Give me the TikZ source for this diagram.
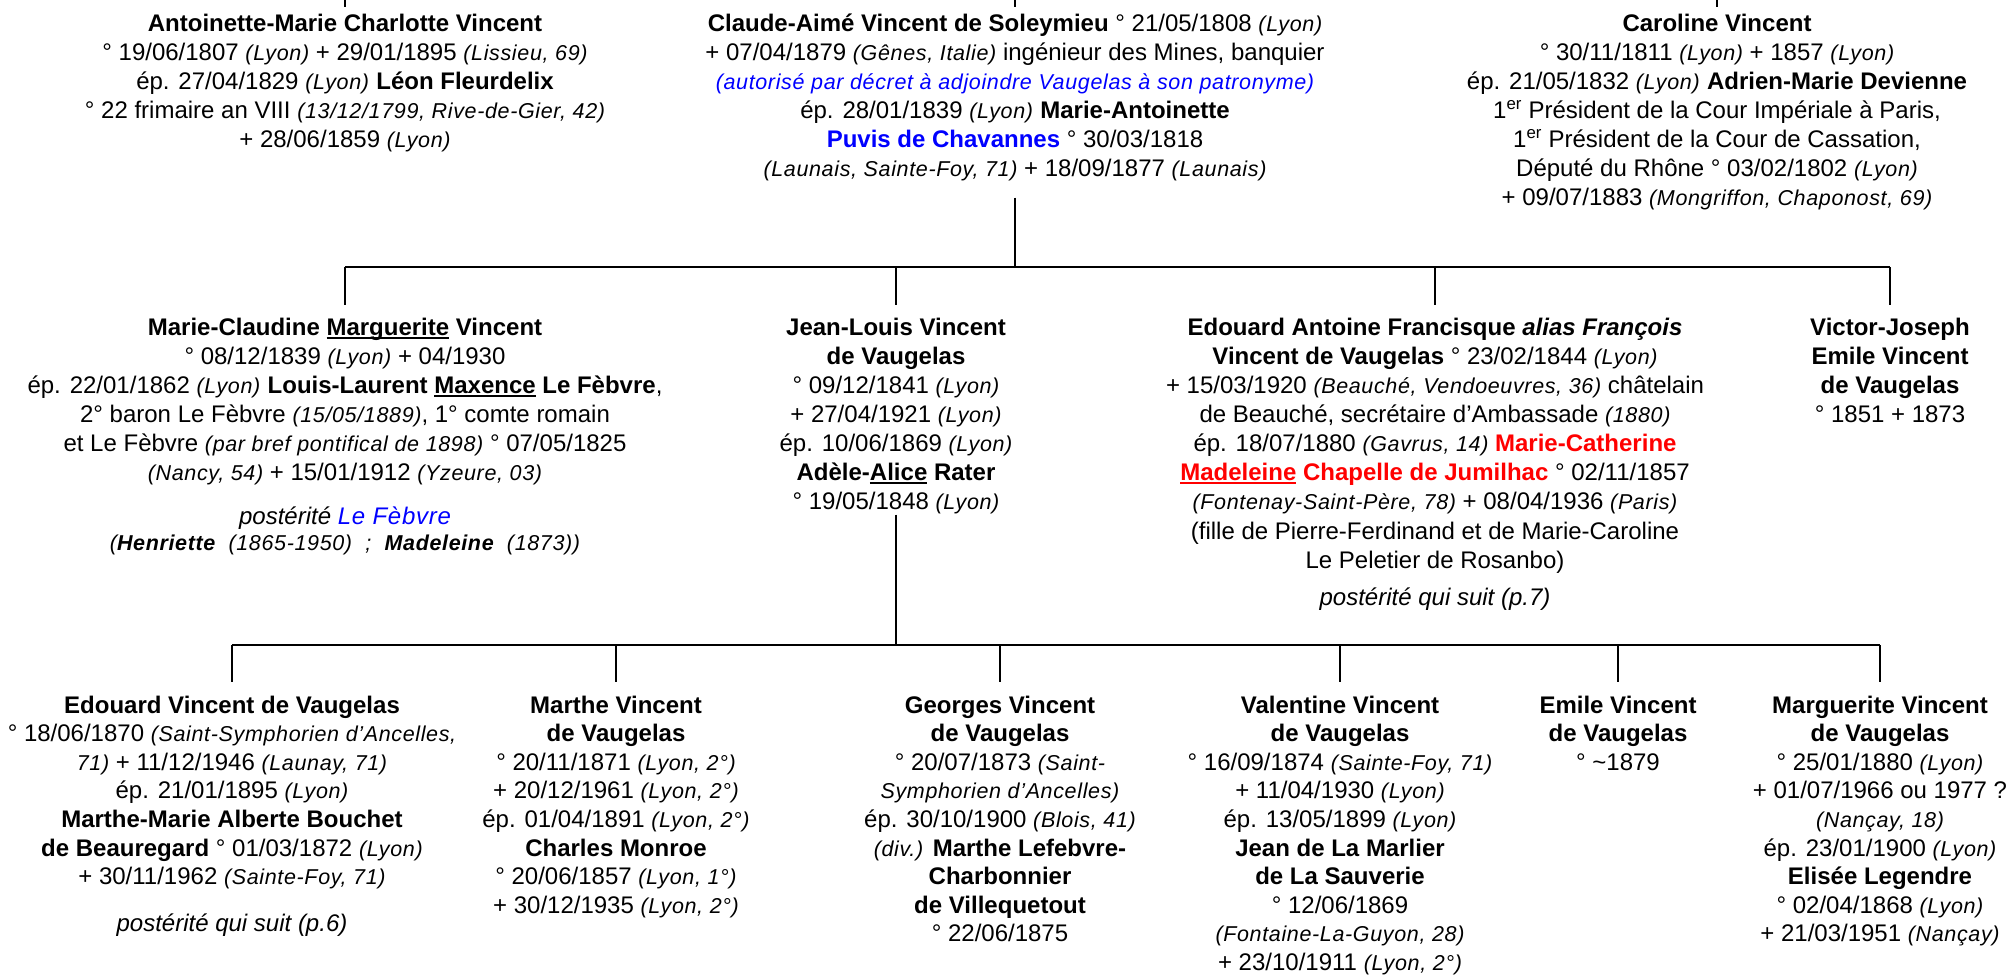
\documentclass[tikz,border=0pt]{standalone}
\usepackage{fontspec}
\setmainfont{Liberation Sans}
\newfontfamily\itsp[LetterSpace=3]{Liberation Sans}
\definecolor{gblue}{RGB}{0,0,255}
\definecolor{gred}{RGB}{255,0,0}
\newcommand{\plc}[1]{{\itsp\fontsize{21.5}{\baselineskip}\selectfont\itshape #1}}
\newsavebox\ubox
\newcommand{\undl}[1]{\sbox\ubox{#1}\rlap{\rule[-3.2pt]{\wd\ubox}{1.8pt}}\usebox\ubox}
\begin{document}
\begin{tikzpicture}[x=1pt,y=-1pt,
  person/.style={anchor=north,inner sep=0pt,outer sep=0pt,align=center,font=\fontsize{24}{29.1}\selectfont},
  lowperson/.style={person,font=\fontsize{24}{28.6}\selectfont},
  note/.style={inner sep=0pt,outer sep=0pt,align=center,font=\fontsize{24}{29.1}\selectfont},
  tree/.style={draw=black,line width=2.6pt}]
\useasboundingbox (0,0) rectangle (2015,975);
\fill[white] (0,0) rectangle (2015,975);

% ---------- top row ----------
\node[person] (A) at (345,11) {\strut\textbf{Antoinette-Marie Charlotte Vincent}\\
° 19/06/1807 \plc{(Lyon)} + 29/01/1895 \plc{(Lissieu, 69)}\\
ép. 27/04/1829 \plc{(Lyon)} \textbf{Léon Fleurdelix}\\
° 22 frimaire an VIII \plc{(13/12/1799, Rive-de-Gier, 42)}\\
+ 28/06/1859 \plc{(Lyon)}\strut};

\node[person] (B) at (1015,11) {\strut\textbf{Claude-Aimé Vincent de Soleymieu} ° 21/05/1808 \plc{(Lyon)}\\
+ 07/04/1879 \plc{(Gênes, Italie)} ingénieur des Mines, banquier\\
{\color{gblue}\plc{(autorisé par décret à adjoindre Vaugelas à son patronyme)}}\\
ép. 28/01/1839 \plc{(Lyon)} \textbf{Marie-Antoinette}\\
{\color{gblue}\textbf{Puvis de Chavannes}} ° 30/03/1818\\
\plc{(Launais, Sainte-Foy, 71)} + 18/09/1877 \plc{(Launais)}\strut};

\node[person] (C) at (1717,11) {\strut\textbf{Caroline Vincent}\\
° 30/11/1811 \plc{(Lyon)} + 1857 \plc{(Lyon)}\\
ép. 21/05/1832 \plc{(Lyon)} \textbf{Adrien-Marie Devienne}\\
1\textsuperscript{er} Président de la Cour Impériale à Paris,\\
1\textsuperscript{er} Président de la Cour de Cassation,\\
Député du Rhône ° 03/02/1802 \plc{(Lyon)}\\
+ 09/07/1883 \plc{(Mongriffon, Chaponost, 69)}\strut};

% ---------- middle row ----------
\node[person] (D) at (345,315) {\strut\textbf{Marie-Claudine \undl{Marguerite} Vincent}\\
° 08/12/1839 \plc{(Lyon)} + 04/1930\\
ép. 22/01/1862 \plc{(Lyon)} \textbf{Louis-Laurent \undl{Maxence} Le Fèbvre},\\
2° baron Le Fèbvre \plc{(15/05/1889)}, 1° comte romain\\
et Le Fèbvre \plc{(par bref pontifical de 1898)} ° 07/05/1825\\
\plc{(Nancy, 54)} + 15/01/1912 \plc{(Yzeure, 03)}\strut};
\node[note] (Dp) at (345,518) {\textit{postérité {\color{gblue}\itsp Le Fèbvre}}};
\node[note] (Dq) at (345,545) {\plc{(\textbf{Henriette} \ (1865-1950) \ ; \ \textbf{Madeleine} \ (1873))}};

\node[person] (E) at (896,315) {\strut\textbf{Jean-Louis Vincent}\\
\textbf{de Vaugelas}\\
° 09/12/1841 \plc{(Lyon)}\\
+ 27/04/1921 \plc{(Lyon)}\\
ép. 10/06/1869 \plc{(Lyon)}\\
\textbf{Adèle-\undl{Alice} Rater}\\
° 19/05/1848 \plc{(Lyon)}\strut};

\node[person] (F) at (1435,315) {\strut\textbf{Edouard Antoine Francisque \textit{alias François}}\\
\textbf{Vincent de Vaugelas} ° 23/02/1844 \plc{(Lyon)}\\
+ 15/03/1920 \plc{(Beauché, Vendoeuvres, 36)} châtelain\\
de Beauché, secrétaire d’Ambassade \plc{(1880)}\\
ép. 18/07/1880 \plc{(Gavrus, 14)} {\color{gred}\textbf{Marie-Catherine}}\\
{\color{gred}\textbf{\undl{Madeleine} Chapelle de Jumilhac}} ° 02/11/1857\\
\plc{(Fontenay-Saint-Père, 78)} + 08/04/1936 \plc{(Paris)}\\
(fille de Pierre-Ferdinand et de Marie-Caroline\\
Le Peletier de Rosanbo)\strut};
\node[note] (Fp) at (1435,599) {\textit{postérité qui suit (p.7)}};

\node[person] (G) at (1890,315) {\strut\textbf{Victor-Joseph}\\
\textbf{Emile Vincent}\\
\textbf{de Vaugelas}\\
° 1851 + 1873\strut};

% ---------- bottom row ----------
\node[lowperson] (H) at (232,693) {\strut\textbf{Edouard Vincent de Vaugelas}\\
° 18/06/1870 \plc{(Saint-Symphorien d’Ancelles,}\\
\plc{71)} + 11/12/1946 \plc{(Launay, 71)}\\
ép. 21/01/1895 \plc{(Lyon)}\\
\textbf{Marthe-Marie Alberte Bouchet}\\
\textbf{de Beauregard} ° 01/03/1872 \plc{(Lyon)}\\
+ 30/11/1962 \plc{(Sainte-Foy, 71)}\strut};
\node[note] (Hp) at (232,925) {\textit{postérité qui suit (p.6)}};

\node[lowperson] (I) at (616,693) {\strut\textbf{Marthe Vincent}\\
\textbf{de Vaugelas}\\
° 20/11/1871 \plc{(Lyon, 2°)}\\
+ 20/12/1961 \plc{(Lyon, 2°)}\\
ép. 01/04/1891 \plc{(Lyon, 2°)}\\
\textbf{Charles Monroe}\\
° 20/06/1857 \plc{(Lyon, 1°)}\\
+ 30/12/1935 \plc{(Lyon, 2°)}\strut};

\node[lowperson] (J) at (1000,693) {\strut\textbf{Georges Vincent}\\
\textbf{de Vaugelas}\\
° 20/07/1873 \plc{(Saint-}\\
\plc{Symphorien d’Ancelles)}\\
ép. 30/10/1900 \plc{(Blois, 41)}\\
\plc{(div.)} \textbf{Marthe Lefebvre-}\\
\textbf{Charbonnier}\\
\textbf{de Villequetout}\\
° 22/06/1875\strut};

\node[lowperson] (K) at (1340,693) {\strut\textbf{Valentine Vincent}\\
\textbf{de Vaugelas}\\
° 16/09/1874 \plc{(Sainte-Foy, 71)}\\
+ 11/04/1930 \plc{(Lyon)}\\
ép. 13/05/1899 \plc{(Lyon)}\\
\textbf{Jean de La Marlier}\\
\textbf{de La Sauverie}\\
° 12/06/1869\\
\plc{(Fontaine-La-Guyon, 28)}\\
+ 23/10/1911 \plc{(Lyon, 2°)}\strut};

\node[lowperson] (L) at (1618,693) {\strut\textbf{Emile Vincent}\\
\textbf{de Vaugelas}\\
° \textasciitilde1879\strut};

\node[lowperson] (M) at (1880,693) {\strut\textbf{Marguerite Vincent}\\
\textbf{de Vaugelas}\\
° 25/01/1880 \plc{(Lyon)}\\
+ 01/07/1966 ou 1977 ?\\
\plc{(Nançay, 18)}\\
ép. 23/01/1900 \plc{(Lyon)}\\
\textbf{Elisée Legendre}\\
° 02/04/1868 \plc{(Lyon)}\\
+ 21/03/1951 \plc{(Nançay)}\strut};

% ---------- connectors ----------
\coordinate (top) at (0,0);
\coordinate (bus1) at (0,267);
\coordinate (bus2) at (0,645);

\foreach \n in {A,B,C}
  \draw[tree,shorten >=4pt] (\n.north |- top) -- (\n.north);

\draw[tree,shorten <=12pt] (B.south) -- (B.south |- bus1);
\draw[tree] (D.north |- bus1) -- (G.north |- bus1);
\foreach \n in {D,E,F,G}
  \draw[tree,shorten >=10pt] (\n.north |- bus1) -- (\n.north);

\draw[tree,shorten <=-4pt] (E.south) -- (E.south |- bus2);
\draw[tree] (H.north |- bus2) -- (M.north |- bus2);
\foreach \n in {H,I,J,K,L,M}
  \draw[tree,shorten >=11pt] (\n.north |- bus2) -- (\n.north);
\end{tikzpicture}
\end{document}
